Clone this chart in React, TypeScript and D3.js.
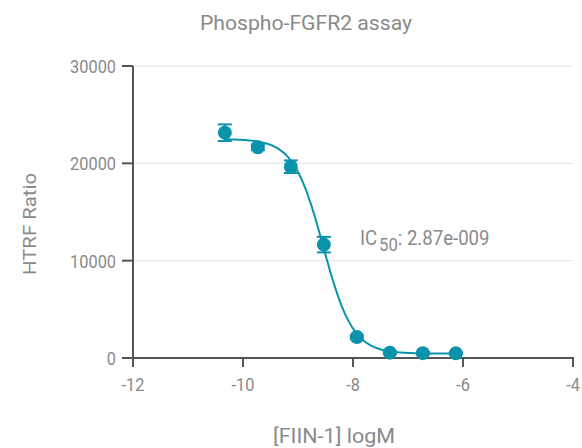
import React from "react";
import * as d3 from "d3";

const logConc = [-10.33, -9.73, -9.13, -8.53, -7.93, -7.33, -6.73, -6.13];
const htrf = [23150, 21650, 19650, 11650, 2150, 550, 500, 480];
const errs = [850, 300, 650, 800, 200, 150, 100, 100];
const xTicks = [-12, -10, -8, -6, -4];
const yTicks = [0, 10000, 20000, 30000];
const fitTop = 22500;
const fitBottom = 450;
const fitLogIC50 = Math.log10(2.87e-9);
const fitHill = 1.62;

const W = 582, H = 448;
const teal = "#0a93ab";
const grey = "#8a8a8a";
const font = "Roboto, sans-serif";

export default function App() {
  const x = d3.scaleLinear().domain([-12, -4]).range([133, 573]);
  const y = d3.scaleLinear().domain([0, 30000]).range([358, 66]);
  const fit = (v: number) => fitBottom + (fitTop - fitBottom) / (1 + Math.pow(10, (v - fitLogIC50) * fitHill));
  const xs = d3.range(logConc[0], logConc[logConc.length - 1] + 0.001, 0.02);
  const line = d3.line<number>().x(d => x(d)).y(d => y(fit(d))).curve(d3.curveBasis);
  const sx = 0.86;
  return (
    <svg width={W} height={H} style={{ position: "absolute", left: 0, top: 0, fontFamily: font }}>
      <text x={306} y={30} textAnchor="middle" fontSize={20} fill={grey} textLength={212} lengthAdjust="spacingAndGlyphs">Phospho-FGFR2 assay</text>
      {yTicks.map(t => (
        <g key={t}>
          <line x1={133} x2={573} y1={y(t)} y2={y(t)} stroke="#e2e2e2" strokeWidth={1} />
          <line x1={122} x2={133} y1={y(t)} y2={y(t)} stroke="#555" strokeWidth={2} />
          <text transform={`translate(116,${y(t) + 7}) scale(${sx},1)`} textAnchor="end" fontSize={19} fill={grey}>{t}</text>
        </g>
      ))}
      {xTicks.map(t => (
        <g key={t}>
          <line x1={x(t)} x2={x(t)} y1={358} y2={367} stroke="#555" strokeWidth={2} />
          <text transform={`translate(${x(t)},391) scale(${sx},1)`} textAnchor="middle" fontSize={19} fill={grey}>{t}</text>
        </g>
      ))}
      <line x1={133} x2={133} y1={66} y2={359} stroke="#555" strokeWidth={2} />
      <line x1={132} x2={574} y1={358} y2={358} stroke="#555" strokeWidth={2} />
      <text transform={`translate(36,224) rotate(-90)`} textAnchor="middle" fontSize={19} fill={grey} textLength={102} lengthAdjust="spacingAndGlyphs">HTRF Ratio</text>
      <text x={334} y={443} textAnchor="middle" fontSize={21} fill={grey} textLength={122} lengthAdjust="spacingAndGlyphs">[FIIN-1] logM</text>
      <path d={line(xs) || ""} fill="none" stroke={teal} strokeWidth={2} />
      {logConc.map((c, i) => (
        <g key={i}>
          <line x1={x(c)} x2={x(c)} y1={y(htrf[i] - errs[i])} y2={y(htrf[i] + errs[i])} stroke={teal} strokeWidth={2} />
          <line x1={x(c) - 7} x2={x(c) + 7} y1={y(htrf[i] - errs[i])} y2={y(htrf[i] - errs[i])} stroke={teal} strokeWidth={2} />
          <line x1={x(c) - 7} x2={x(c) + 7} y1={y(htrf[i] + errs[i])} y2={y(htrf[i] + errs[i])} stroke={teal} strokeWidth={2} />
          <circle cx={x(c)} cy={y(htrf[i])} r={7} fill={teal} />
        </g>
      ))}
      <text transform={`translate(360,245) scale(0.93,1)`} fontSize={20} fill={grey}>
        IC<tspan dx={2} fontSize={18} dy={6}>50</tspan><tspan dy={-6}>: 2.87e-009</tspan>
      </text>
    </svg>
  );
}
